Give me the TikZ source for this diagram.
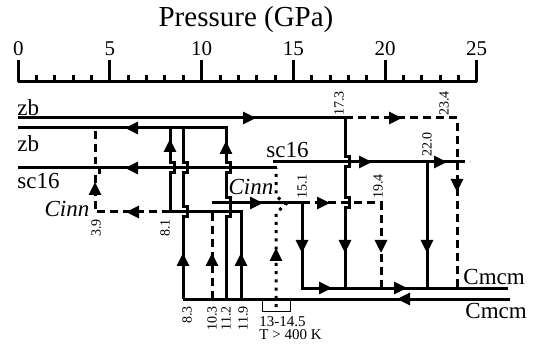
\documentclass[tikz,border=0pt]{standalone}
\usepackage{fontspec}
\setmainfont{Liberation Serif}
\usetikzlibrary{arrows.meta}
\tikzstyle{phase} = [line width=1.5pt]
\tikzstyle{meta} = [line width=1.5pt, dash pattern=on 4pt off 2.5pt]
\tikzstyle{hot} = [line width=1.5pt, dash pattern=on 1.5pt off 2.6pt]
\tikzstyle{midtip} = [line width=1.5pt, -{Triangle[length=6.5pt,width=6pt]}]
\tikzstyle{lbl} = [font=\fontsize{11.5}{12}\selectfont, inner sep=0pt]
\tikzstyle{val} = [font=\fontsize{7}{8}\selectfont, inner sep=0pt, rotate=90]
\tikzstyle{tick} = [font=\fontsize{10.5}{11}\selectfont, inner sep=0pt]

\begin{document}
\begin{tikzpicture}[x=0.5pt, y=-0.5pt]
            \useasboundingbox (0,0) rectangle (533,346);

            % Pressure scale
            \node[font=\fontsize{14.5}{16}\selectfont] (title) at (246,20) {Pressure (GPa)};
            \draw[phase] (18.3,82) -- (476.7,82);
            \foreach \p in {0,...,25}
                \draw[phase] (18.3+18.336*\p,82) -- (18.3+18.336*\p,75);
            \foreach \p in {0,5,...,25} {
                \draw[phase] (18.3+18.336*\p,82) -- (18.3+18.336*\p,60);
                \node[tick] (n\p) at (18.3+18.336*\p,49) {\p};
            }

            % Compression paths
            \draw[phase] (18,118) -- (345,118) -- (345,157) -- ++(4,0) -- ++(0,10) -- ++(-4,0)
                -- (345,198) -- ++(4,0) -- ++(0,10) -- ++(-4,0) -- (345,288);
            \draw[meta] (345,118) -- (457,118) -- (457,288);
            \draw[phase] (273,162) -- (457,162);
            \draw[meta] (457,162) -- (470,162);
            \draw[phase] (427,162) -- (427,288);
            \draw[phase] (212,203) -- (302,203) -- (302,288) -- (508,288);
            \draw[meta] (302,203) -- (381,203) -- (381,288);

            % Decompression paths
            \draw[phase] (183,299) -- (510,299);
            \draw[phase] (241,299) -- (241,212) -- (170,212);
            \draw[meta] (170,212) -- (95,212) -- (95,173) -- ++(4,0) -- ++(0,-10) -- ++(-4,0) -- (95,128);
            \draw[meta] (212,299) -- (212,212);
            \draw[phase] (170,212) -- (170,173) -- ++(4,0) -- ++(0,-10) -- ++(-4,0) -- (170,128);
            \draw[phase] (183,299) -- (183,217) -- ++(4,0) -- ++(0,-10) -- ++(-4,0)
                -- (183,173) -- ++(4,0) -- ++(0,-10) -- ++(-4,0) -- (183,128);
            \draw[phase] (226,299) -- (226,217) -- ++(4,0) -- ++(0,-19) -- ++(-4,0)
                -- (226,173) -- ++(4,0) -- ++(0,-10) -- ++(-4,0) -- (226,128) -- (18,128);
            \draw[phase] (18,168) -- (277,168);
            \draw[hot] (276,307) -- (276,213) -- (286,204) -- (276,196) -- (276,168);
            \draw[line width=0.4pt] (262,299) rectangle (290,311);

            % Arrow heads
            \foreach \x/\y in {256/118, 402/118, 372/162, 447/162, 263/203, 330/203, 332/288, 407/288}
                \draw[midtip] (\x-13,\y) -- (\x,\y);
            \foreach \x/\y in {125/128, 125/168, 126/212, 397/299}
                \draw[midtip] (\x+13,\y) -- (\x,\y);
            \foreach \x/\y in {95/182, 170/139, 226/141, 183/253, 212/253, 241/253, 276/248}
                \draw[midtip] (\x,\y+13) -- (\x,\y);
            \foreach \x/\y in {457/192, 302/253, 345/253, 381/253, 427/253}
                \draw[midtip] (\x,\y-13) -- (\x,\y);

            % Phase labels
            \node[lbl, anchor=west] (zbA) at (17,108) {zb};
            \node[lbl, anchor=west] (zbB) at (17,144) {zb};
            \node[lbl, anchor=west] (scA) at (17,181) {sc16};
            \node[lbl, anchor=west] (scB) at (266,150) {sc16};
            \node[lbl] (cinnA) at (67,209) {\textit{Cinn}};
            \node[lbl] (cinnB) at (251,187) {\textit{Cinn}};
            \node[lbl, anchor=west] (cmA) at (463,277) {Cmcm};
            \node[lbl, anchor=west] (cmB) at (465,311) {Cmcm};

            % Transition pressures
            \node[val, anchor=west] (p173) at (339,116) {17.3};
            \node[val, anchor=west] (p234) at (444,116) {23.4};
            \node[val, anchor=west] (p220) at (427,157) {22.0};
            \node[val, anchor=west] (p151) at (302,199) {15.1};
            \node[val, anchor=west] (p194) at (378,199) {19.4};
            \node[val, anchor=east] (p39) at (96,219) {3.9};
            \node[val, anchor=east] (p81) at (165,219) {8.1};
            \node[val, anchor=east] (p83) at (187,306) {8.3};
            \node[val, anchor=east] (p103) at (212,306) {10.3};
            \node[val, anchor=east] (p112) at (226,306) {11.2};
            \node[val, anchor=east] (p119) at (243,306) {11.9};
            \node[font=\fontsize{7.5}{8}\selectfont, inner sep=0pt, anchor=north west, align=left] (hotT) at (259,316) {13-14.5\\[-1.5pt]T > 400 K};

        \end{tikzpicture}
\end{document}
